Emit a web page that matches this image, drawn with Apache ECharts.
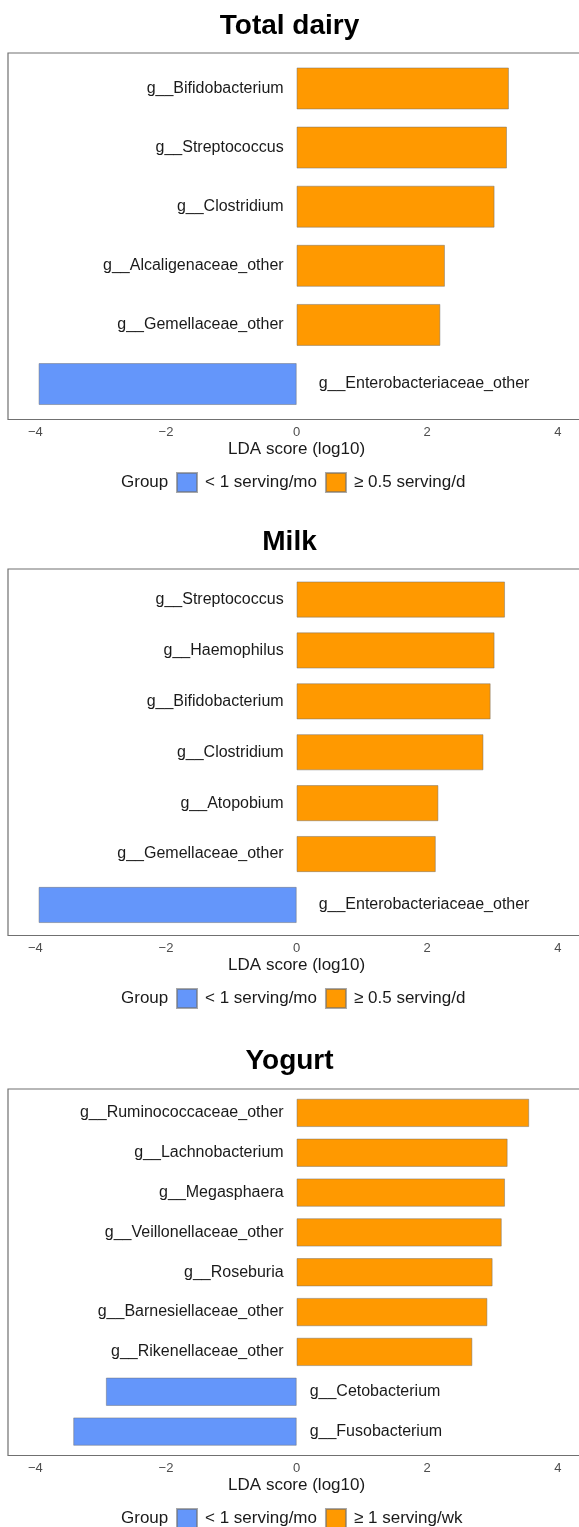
<!DOCTYPE html>
<html>
<head>
<meta charset="utf-8">
<script src="https://cdn.jsdelivr.net/npm/echarts@6/dist/echarts.min.js"></script>
<style>
  html, body { margin: 0; padding: 0; background: #ffffff; }
  #chart { width: 579px; height: 1527px; }
</style>
</head>
<body>
<div id="chart"></div>
<script>
// Shared x-axis ticks (LDA score, log10)
const xTicks = [-4, -2, 0, 2, 4];

// Total dairy
const dairyTitle = 'Total dairy';
const dairyTaxa = ['g__Bifidobacterium', 'g__Streptococcus', 'g__Clostridium',
  'g__Alcaligenaceae_other', 'g__Gemellaceae_other', 'g__Enterobacteriaceae_other'];
const dairyLDA = [3.25, 3.22, 3.03, 2.27, 2.20, -3.95];
const dairyGroups = ['< 1 serving/mo', '≥ 0.5 serving/d'];

// Milk
const milkTitle = 'Milk';
const milkTaxa = ['g__Streptococcus', 'g__Haemophilus', 'g__Bifidobacterium', 'g__Clostridium',
  'g__Atopobium', 'g__Gemellaceae_other', 'g__Enterobacteriaceae_other'];
const milkLDA = [3.19, 3.03, 2.97, 2.86, 2.17, 2.13, -3.95];
const milkGroups = ['< 1 serving/mo', '≥ 0.5 serving/d'];

// Yogurt
const yogurtTitle = 'Yogurt';
const yogurtTaxa = ['g__Ruminococcaceae_other', 'g__Lachnobacterium', 'g__Megasphaera',
  'g__Veillonellaceae_other', 'g__Roseburia', 'g__Barnesiellaceae_other',
  'g__Rikenellaceae_other', 'g__Cetobacterium', 'g__Fusobacterium'];
const yogurtLDA = [3.56, 3.23, 3.19, 3.14, 3.00, 2.92, 2.69, -2.92, -3.42];
const yogurtGroups = ['< 1 serving/mo', '≥ 1 serving/wk'];

// ---- styling / layout ----
const FONT = "'Liberation Sans', Arial, Helvetica, sans-serif";
const TEXT = '#1a1a1a';
const LOW_COLOR = '#6496FA';
const HIGH_COLOR = '#FF9900';
const BAR_EDGE = 'rgba(110,110,110,0.6)';

const X_MIN = -4.42, X_MAX = 4.58;   // panel box reaches a little past the outer ticks
const UNIT = 65.3;                   // px per LDA unit
const BOX_LEFT = 8;
const BOX_W = (X_MAX - X_MIN) * UNIT; // wider than the page, so the right edge is off-canvas
const BOX_H = 366.5;
// the axis title sits under x = 0 rather than under the (wider) box centre
const NAME_SHIFT = 2 * ((X_MAX + X_MIN) / 2) * UNIT;

const panels = [
  { title: dairyTitle, taxa: dairyTaxa, lda: dairyLDA, groups: dairyGroups, titleTop: 12, boxTop: 53, lowGap: 22 },
  { title: milkTitle, taxa: milkTaxa, lda: milkLDA, groups: milkGroups, titleTop: 528, boxTop: 569, lowGap: 22 },
  { title: yogurtTitle, taxa: yogurtTaxa, lda: yogurtLDA, groups: yogurtGroups, titleTop: 1047, boxTop: 1089, lowGap: 13 }
];

const option = {
  animation: false,
  backgroundColor: '#ffffff',
  textStyle: { fontFamily: FONT },
  title: [], legend: [], grid: [], xAxis: [], yAxis: [], series: []
};

panels.forEach((p, i) => {
  const n = p.taxa.length;
  const pitch = BOX_H / (n + 0.2);       // category bands padded by 0.6 band at each end
  const inset = 0.1 * pitch;
  const boxBottom = p.boxTop + BOX_H;
  const legendMid = boxBottom + 62;

  option.title.push({
    text: p.title, left: 'center', top: p.titleTop, padding: 0,
    textStyle: { fontSize: 28, fontWeight: 'bold', color: '#000', fontFamily: FONT }
  });
  option.title.push({
    text: 'Group', left: 121, top: legendMid - 8, padding: 0,
    textStyle: { fontSize: 17, fontWeight: 'normal', color: TEXT, fontFamily: FONT }
  });

  option.legend.push({
    left: 176, top: legendMid - 9.5, padding: 0,
    data: p.groups, icon: 'rect', itemWidth: 20, itemHeight: 19, itemGap: 8,
    selectedMode: false,
    textStyle: { fontSize: 17, color: TEXT, fontFamily: FONT, padding: [0, 0, 0, 3] }
  });

  // outer framed box carrying the LDA axis
  option.grid.push({
    left: BOX_LEFT, width: BOX_W, top: p.boxTop, height: BOX_H,
    outerBoundsMode: 'none', containLabel: false,
    show: true, borderColor: '#707070', borderWidth: 1.2, backgroundColor: '#ffffff'
  });
  // inner plotting area for the bars
  option.grid.push({
    left: BOX_LEFT, width: BOX_W, top: p.boxTop + inset, height: BOX_H - 2 * inset,
    outerBoundsMode: 'none', containLabel: false
  });

  option.xAxis.push({
    type: 'value', gridIndex: 2 * i, min: X_MIN, max: X_MAX,
    axisLine: { show: false }, axisTick: { show: false }, splitLine: { show: false },
    axisLabel: {
      customValues: xTicks, margin: 6, fontSize: 13, color: '#4d4d4d', fontFamily: FONT,
      formatter: v => (v < 0 ? '\u2212' + Math.abs(v) : String(v))
    },
    name: 'LDA score (log10)', nameLocation: 'middle', nameGap: 21,
    nameTextStyle: { fontSize: 17, color: TEXT, fontFamily: FONT, padding: [0, NAME_SHIFT, 0, 0] }
  });
  option.xAxis.push({
    type: 'value', gridIndex: 2 * i + 1, min: X_MIN, max: X_MAX, show: false
  });

  option.yAxis.push({ type: 'value', gridIndex: 2 * i, show: false });
  option.yAxis.push({
    type: 'category', gridIndex: 2 * i + 1, data: p.taxa, inverse: true, show: false
  });

  const labelStyle = { show: true, fontSize: 16, color: TEXT, fontFamily: FONT, formatter: '{b}' };

  option.series.push({
    type: 'bar', name: p.groups[1], xAxisIndex: 2 * i + 1, yAxisIndex: 2 * i + 1,
    stack: 'panel' + i, barWidth: '70.7%',
    data: p.lda.map(v => (v > 0 ? v : '-')),
    itemStyle: { color: HIGH_COLOR, borderColor: BAR_EDGE, borderWidth: 0.8 },
    label: Object.assign({ position: 'left', distance: 13 }, labelStyle)
  });
  option.series.push({
    type: 'bar', name: p.groups[0], xAxisIndex: 2 * i + 1, yAxisIndex: 2 * i + 1,
    stack: 'panel' + i, barWidth: '70.7%',
    data: p.lda.map(v => (v < 0 ? v : '-')),
    itemStyle: { color: LOW_COLOR, borderColor: BAR_EDGE, borderWidth: 0.8 },
    label: Object.assign({ position: 'right', distance: p.lowGap }, labelStyle)
  });
});

const chart = echarts.init(document.getElementById('chart'), null, { renderer: 'canvas' });
chart.setOption(option);
</script>
</body>
</html>
